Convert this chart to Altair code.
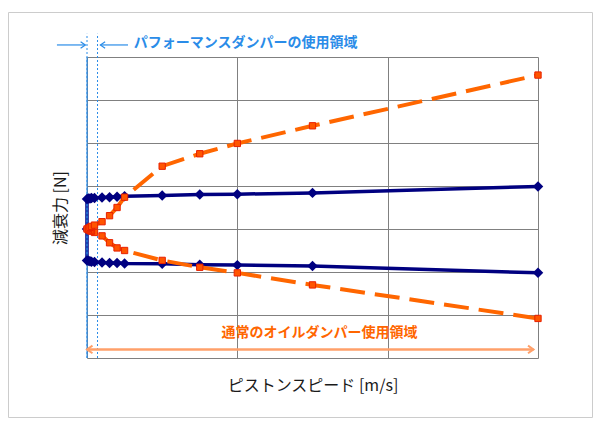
import altair as alt
import pandas as pd

# ---- data ----
speed = [0, 0.01, 0.02, 0.03, 0.05, 0.1, 0.15, 0.2, 0.25, 0.5, 0.75, 1.0, 1.5, 3.0]
perf_ext = [0.70, 0.71, 0.71, 0.72, 0.72, 0.73, 0.74, 0.75, 0.76, 0.78, 0.80, 0.81, 0.84, 0.99]
perf_comp = [-0.73, -0.74, -0.75, -0.76, -0.77, -0.78, -0.79, -0.79, -0.80, -0.81, -0.83, -0.84, -0.86, -1.02]
oil_ext = [0, 0.02, 0.04, 0.06, 0.09, 0.17, 0.31, 0.50, 0.74, 1.46, 1.75, 1.99, 2.40, 3.58]
oil_comp = [0, -0.02, -0.04, -0.05, -0.08, -0.16, -0.32, -0.44, -0.50, -0.73, -0.89, -1.02, -1.30, -2.08]

x_ticks = [0, 1, 2, 3]
y_ticks = [-3, -2, -1, 0, 1, 2, 3, 4]

blue_label = "パフォーマンスダンパーの使用領域"
orange_label = "通常のオイルダンパー使用領域"
x_title = "ピストンスピード [m/s]"
y_title = "減衰力 [N]"

# performance-range boundaries and annotation anchors (data units)
perf_bounds = [0, 0.07]
blue_arrow_y = 4.28
blue_arrow_left = [-0.20, -0.011]
blue_arrow_right = [0.089, 0.273]
blue_text_pos = [0.311, 4.33]
orange_arrow = [0.0, 2.97, -2.80]
orange_text_pos = [1.546, -2.42]
dotted_top = 4.54

FONT = "Noto Sans CJK JP"
NAVY = "#000080"
ORANGE = "#FF6600"
BLUE = "#2A8CE8"
ARROW_OR = "#FFA06A"

# ---- tables ----
navy_df = pd.DataFrame({
    "x": list(reversed(speed)) + [0] + speed,
    "y": list(reversed(perf_comp)) + [0] + perf_ext,
})
navy_df["o"] = range(len(navy_df))
oil_df = pd.DataFrame({
    "x": list(reversed(speed)) + speed[1:],
    "y": list(reversed(oil_comp)) + oil_ext[1:],
})
oil_df["o"] = range(len(oil_df))

xs = alt.Scale(domain=[0, 3], nice=False, zero=False)
ys = alt.Scale(domain=[-3, 4], nice=False, zero=False)
xaxis = alt.Axis(values=x_ticks, labels=False, ticks=False, domain=False, grid=True,
                 gridColor="#808080", gridWidth=1, title=x_title, titleFont=FONT,
                 titleFontSize=16, titleFontWeight="normal", titleColor="#1a1a1a",
                 titlePadding=19)
yaxis = alt.Axis(values=y_ticks, labels=False, ticks=False, domain=False, grid=True,
                 gridColor="#808080", gridWidth=1, title=y_title, titleFont=FONT,
                 titleFontSize=16, titleFontWeight="normal", titleColor="#1a1a1a",
                 titlePadding=19)
X = alt.X("x:Q", scale=xs, axis=xaxis)
Y = alt.Y("y:Q", scale=ys, axis=yaxis)

# outer light frame (decoration)
frame = alt.Chart(pd.DataFrame({"a": [0]})).mark_rect(
    fillOpacity=0, stroke="#cccccc", strokeWidth=1
).encode(x=alt.value(-78.5), x2=alt.value(505.5), y=alt.value(-44.5), y2=alt.value(360.5))

# blue boundary lines
bounds_df = pd.DataFrame({"x": perf_bounds, "y": [-3, -3], "y2": [dotted_top, dotted_top]})
solid_left = alt.Chart(pd.DataFrame({"x": [0], "y": [-3], "y2": [4]})).mark_rule(
    color=BLUE, strokeWidth=1).encode(x=X, y=Y, y2="y2")
dotted = alt.Chart(bounds_df).mark_rule(color=BLUE, strokeWidth=1, strokeDash=[2, 2]).encode(
    x=X, y=Y, y2="y2")

# blue arrows
barrow_df = pd.DataFrame({"x": [blue_arrow_left[0], blue_arrow_right[0]],
                          "x2": [blue_arrow_left[1], blue_arrow_right[1]],
                          "y": [blue_arrow_y, blue_arrow_y]})
barrows = alt.Chart(barrow_df).mark_rule(color=BLUE, strokeWidth=1.2).encode(x=X, x2="x2", y=Y)
head_r = alt.Chart(pd.DataFrame({"x": [blue_arrow_left[1]], "y": [blue_arrow_y]})).mark_point(
    shape="M-1,-0.7L0,0L-1,0.7", filled=False, size=90, color=BLUE, strokeWidth=1.2, opacity=1
).encode(x=X, y=Y)
head_l = alt.Chart(pd.DataFrame({"x": [blue_arrow_right[0]], "y": [blue_arrow_y]})).mark_point(
    shape="M1,-0.7L0,0L1,0.7", filled=False, size=90, color=BLUE, strokeWidth=1.2, opacity=1
).encode(x=X, y=Y)
btext = alt.Chart(pd.DataFrame({"x": [blue_text_pos[0]], "y": [blue_text_pos[1]], "t": [blue_label]})).mark_text(
    align="left", baseline="middle", font=FONT, fontSize=14, fontWeight="bold", color=BLUE
).encode(x=X, y=Y, text="t:N")

# orange arrow
oarrow_df = pd.DataFrame({"x": [orange_arrow[0]], "x2": [orange_arrow[1]], "y": [orange_arrow[2]]})
oarrow = alt.Chart(oarrow_df).mark_rule(color=ARROW_OR, strokeWidth=2.5).encode(x=X, x2="x2", y=Y)
ohead_l = alt.Chart(pd.DataFrame({"x": [orange_arrow[0]], "y": [orange_arrow[2]]})).mark_point(
    shape="M1,-0.7L0,0L1,0.7", filled=False, size=120, color=ARROW_OR, strokeWidth=2, opacity=1
).encode(x=X, y=Y)
ohead_r = alt.Chart(pd.DataFrame({"x": [orange_arrow[1]], "y": [orange_arrow[2]]})).mark_point(
    shape="M-1,-0.7L0,0L-1,0.7", filled=False, size=120, color=ARROW_OR, strokeWidth=2, opacity=1
).encode(x=X, y=Y)
otext = alt.Chart(pd.DataFrame({"x": [orange_text_pos[0]], "y": [orange_text_pos[1]], "t": [orange_label]})).mark_text(
    align="center", baseline="middle", font=FONT, fontSize=14, fontWeight="bold", color=ORANGE
).encode(x=X, y=Y, text="t:N")

# data series
navy_line = alt.Chart(navy_df).mark_line(color=NAVY, strokeWidth=3.5).encode(x=X, y=Y, order="o:Q")
navy_pts = alt.Chart(navy_df).mark_point(shape="diamond", filled=True, size=110, color=NAVY, opacity=1).encode(x=X, y=Y)
oil_line = alt.Chart(oil_df).mark_line(color=ORANGE, strokeWidth=4, strokeDash=[25, 10]).encode(
    x=X, y=Y, order="o:Q")
oil_pts = alt.Chart(oil_df).mark_point(shape="square", filled=True, size=40, fill="#FF5500",
                                       stroke="#E82000", strokeWidth=1, opacity=1).encode(x=X, y=Y)

chart = alt.layer(
    navy_line, frame, solid_left, dotted, barrows, head_r, head_l, btext,
    oarrow, ohead_l, ohead_r, otext,
    navy_pts, oil_line, oil_pts,
).properties(
    width=451, height=301,
    padding={"left": 79, "top": 49, "right": 55, "bottom": 60},
    autosize=alt.AutoSizeParams(type="none"),
    background="white",
).configure_view(stroke=None)

chart.save("out.html", embed_options={"renderer": "svg", "actions": False})
